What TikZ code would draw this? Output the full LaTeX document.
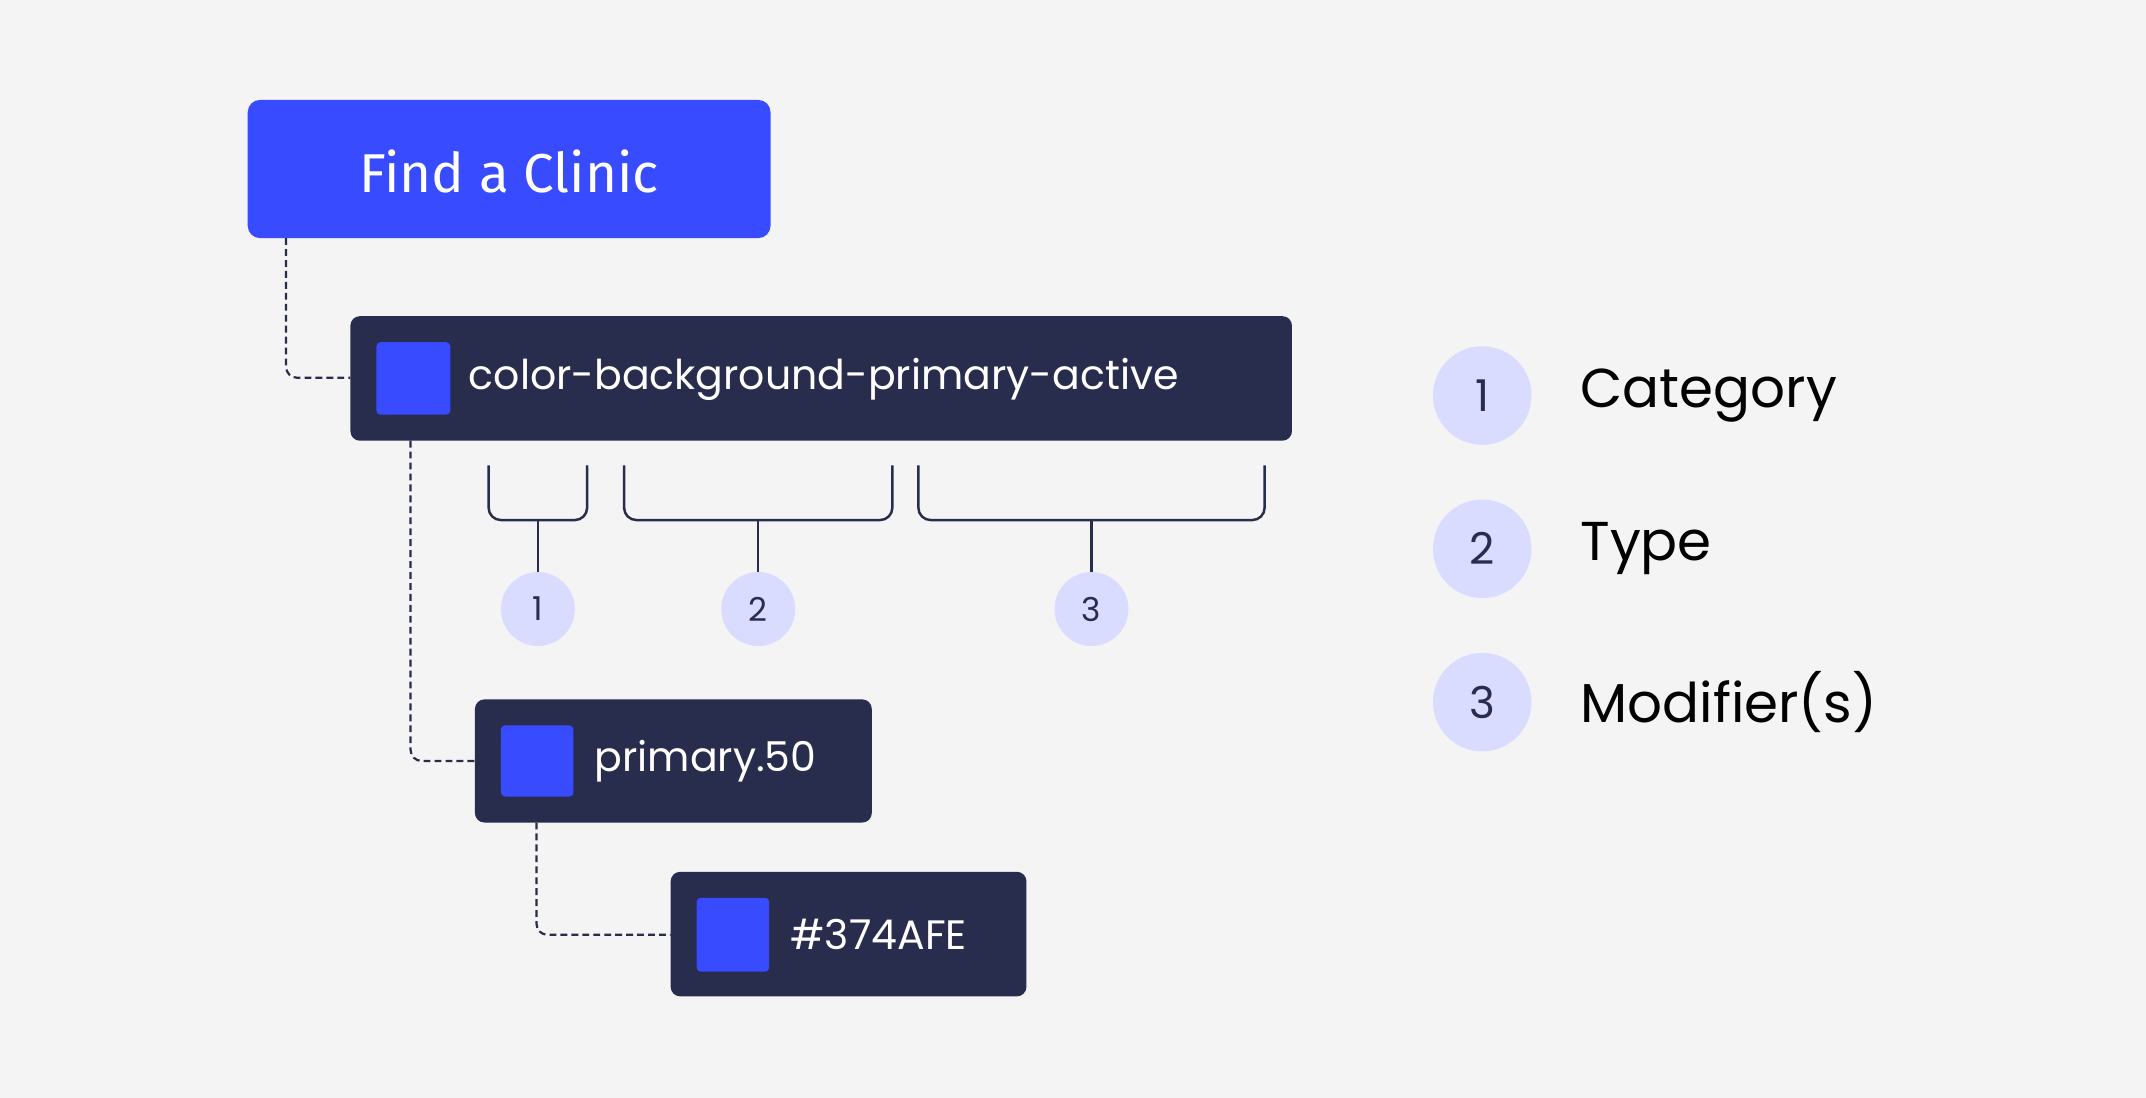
\documentclass[tikz,border=0pt]{standalone}
\usepackage{fontspec}
\setmainfont{Poppins}
\newfontfamily\btnfont{Fira Sans}
\usetikzlibrary{positioning}
\definecolor{bgcol}{HTML}{F4F4F4}
\definecolor{primblue}{HTML}{384BFF}
\definecolor{tokennavy}{HTML}{282C4D}
\definecolor{badgecol}{HTML}{D9DBFF}
\tikzset{
  token/.style={fill=tokennavy,rounded corners=7pt},
  swatch/.style={fill=primblue,rounded corners=3pt},
  tokentext/.style={text=white,anchor=west,font=\fontsize{30}{30}\selectfont},
  link/.style={draw=tokennavy,line width=1.6pt,dash pattern=on 5pt off 3pt,rounded corners=8pt},
  brace/.style={draw=tokennavy,line width=1.8pt,rounded corners=9pt},
  badge/.style={circle,fill=badgecol,text=tokennavy,minimum size=54pt,inner sep=0pt,font=\fontsize{24}{24}\selectfont},
  bigbadge/.style={badge,minimum size=72pt,font=\fontsize{32}{32}\selectfont},
  legend/.style={anchor=west,font=\fontsize{40}{40}\selectfont}
}
\begin{document}
\begin{tikzpicture}[x=1pt,y=-1pt]
\fill[bgcol] (0,0) rectangle (1568,802);
\useasboundingbox (0,0) rectangle (1568,802);
% button
\fill[primblue,rounded corners=9pt] (181,73) rectangle (563,174);
\node[text=white,font=\btnfont\fontsize{40}{40}\selectfont] (btn) at (372,125) {Find a Clinic};
% tokens
\fill[token] (256,231) rectangle (944,322);
\fill[swatch] (275,250) rectangle (329,303);
\node[tokentext] (tok) at (339,277) {color-background-primary-active};
\fill[token] (347,511) rectangle (637,601);
\fill[swatch] (366,530) rectangle (419,582);
\node[tokentext] (ref) at (431,556) {primary.50};
\fill[token] (490,637) rectangle (750,728);
\fill[swatch] (509,656) rectangle (562,710);
\node[tokentext] (hex) at (574,683) {\#374AFE};
% links
\coordinate (l1a) at (209,174); \coordinate (l1b) at (256,276);
\coordinate (l2a) at (300,322); \coordinate (l2b) at (347,556);
\coordinate (l3a) at (392,601); \coordinate (l3b) at (490,683);
\draw[link] (l1a) |- (l1b);
\draw[link] (l2a) |- (l2b);
\draw[link] (l3a) |- (l3b);
% braces
\foreach \n/\a/\b in {1/357/429, 2/456/652, 3/671/924}{
  \draw[brace] (\a,340) -- (\a,380) -- (\b,380) -- (\b,340);
  \node[badge] (b\n) at ({(\a+\b)/2},445) {\n};
  \draw[draw=tokennavy,line width=1.8pt] ({(\a+\b)/2},380) -- (b\n);
}
% legend
\node[bigbadge] (k1) at (1083,289) {1};
\node[bigbadge] (k2) at (1083,401) {2};
\node[bigbadge] (k3) at (1083,513) {3};
\node[legend,right=32pt of k1] {Category};
\node[legend,right=32pt of k2] {Type};
\node[legend,right=32pt of k3] {Modifier(s)};
\end{tikzpicture}
\end{document}
